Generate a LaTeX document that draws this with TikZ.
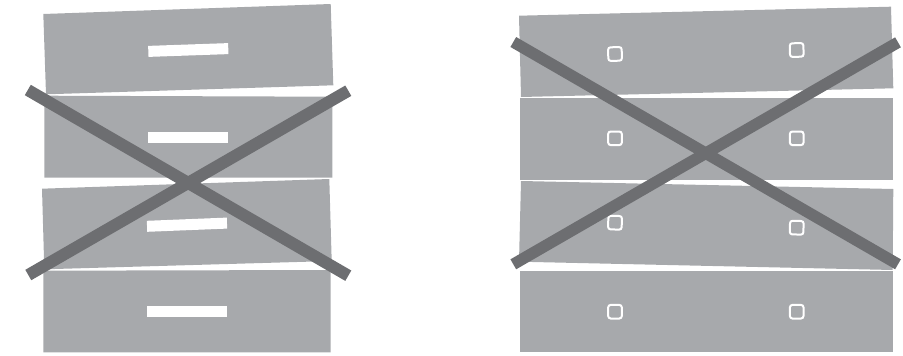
\documentclass[tikz,border=0pt]{standalone}
\usepackage{xcolor}
\usepackage{tikz}
\usetikzlibrary{calc}
\definecolor{drwGray}{HTML}{A7A9AC}
\definecolor{crossGray}{HTML}{6D6E71}

\tikzset{
  drawerbox/.style={fill=drwGray},
  handlebar/.style={fill=white},
  knobbox/.style={draw=white, line width=2pt, rounded corners=2.5pt},
  crossbar/.style={draw=crossGray, line width=12pt}
}

\begin{document}
\begin{tikzpicture}[x=1pt, y=-1pt]
  \useasboundingbox (0,0) rectangle (903,356);
  % left stack: drawers with bar handles
  \foreach \ax/\ay/\bx/\by/\cx/\cy/\dx/\dy in {43.3/14/330.7/4/333.3/85.3/46/94.3, 44.3/95.7/332.3/96.7/332.3/177.7/44.3/177.7, 42/188.7/329.3/179/331.7/261/44.3/269.3, 43.3/270.7/330.7/270/330.7/352.3/43.3/352.3}{
    \fill[drawerbox] (\ax,\ay) -- (\bx,\by) -- (\cx,\cy) -- (\dx,\dy) -- cycle;
  }
  \foreach \x/\y/\a in {188.3/50/2, 188.3/137.2/0, 187/224.7/2.3, 187.2/311.7/0}{
    \fill[handlebar, rotate around={\a:(\x,\y)}] (\x-40,\y-5.5) rectangle (\x+40,\y+5.5);
  }
  % right stack: drawers with two knobs
  \foreach \ax/\ay/\bx/\by/\cx/\cy/\dx/\dy in {519/15.7/891/6.7/893.3/88.3/521/97, 520/97.7/892.7/97.7/892.7/180/520/180, 521/181/893.3/189/892.7/270/519/261.7, 520/271/892.7/271/892.7/352.3/520/352.3}{
    \fill[drawerbox] (\ax,\ay) -- (\bx,\by) -- (\cx,\cy) -- (\dx,\dy) -- cycle;
  }
  \foreach \x/\y/\a in {615/54/1.3, 796.7/50/1.3, 615/138.3/0, 796.7/138.3/0, 615/222.7/-1.5, 796.7/227.7/-1.5, 615/311.7/0, 796.7/311.7/0}{
    \draw[knobbox, rotate around={\a:(\x,\y)}] (\x-6.8,\y-6.8) rectangle (\x+6.8,\y+6.8);
  }
  % crosses
  \coordinate (lTL) at (27.8,90);
  \coordinate (lBR) at (348.3,275.7);
  \coordinate (lTR) at (348.3,90.7);
  \coordinate (lBL) at (28.3,275);
  \coordinate (rTL) at (513.3,42);
  \coordinate (rBR) at (898,264.3);
  \coordinate (rTR) at (898,42.3);
  \coordinate (rBL) at (513.3,264.3);
  \draw[crossbar] (lTL) -- (lBR);
  \draw[crossbar] (lTR) -- (lBL);
  \draw[crossbar, line width=11.5pt] (rTL) -- (rBR);
  \draw[crossbar, line width=11.5pt] (rTR) -- (rBL);
\end{tikzpicture}
\end{document}
